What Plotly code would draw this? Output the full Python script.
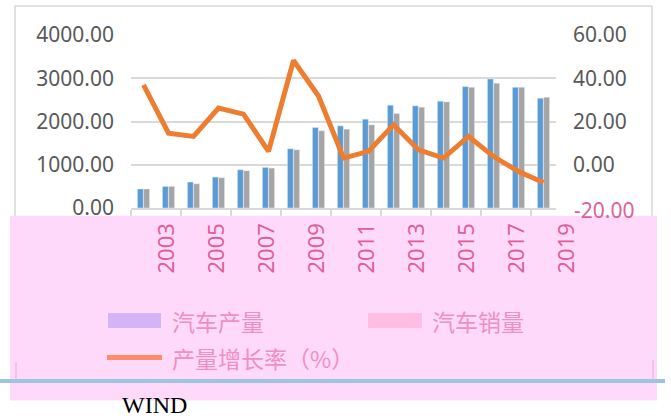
import plotly.graph_objects as go

years = list(range(2003, 2020))
production = [440, 500, 600, 715, 885, 940, 1370, 1862, 1900, 2054, 2377, 2362, 2469, 2808, 2985, 2792, 2538]
sales = [439, 500, 560, 700, 862, 923, 1346, 1785, 1823, 1923, 2185, 2331, 2454, 2792, 2885, 2792, 2562]
growth = [36.9, 14.6, 13.1, 26.2, 23.4, 6.2, 48.2, 31.8, 3.1, 6.2, 18.5, 6.9, 3.1, 13.1, 3.8, -3.1, -8.2]
year_labels = [str(y) for y in years[::2]]

W, H = 671, 419
L, R, T, B = 131, 556, 35, 208  # plot area in pixels


def fx(px):
    return (px - L) / (R - L)


def fy(py):
    return (B - py) / (B - T)


fig = go.Figure()
fig.add_trace(go.Bar(x=years, y=production, name="汽车产量", marker_color="#5b9bd5"))
fig.add_trace(go.Bar(x=years, y=sales, name="汽车销量", marker_color="#a5a5a5"))
fig.add_trace(go.Scatter(x=years, y=growth, name="产量增长率（%）", mode="lines",
                         line=dict(color="#ed7d31", width=5), yaxis="y2"))

pink = "#ffd9fa"
pink_text = "#de5f98"
legend_text = "#ee90c2"

shapes = [
    # outer chart border
    dict(type="rect", xref="paper", yref="paper", x0=fx(15), x1=fx(652), y0=fy(381), y1=fy(6),
         line=dict(color="#d9d9d9", width=1.5), layer="below"),
    # pink block over the lower part
    dict(type="rect", xref="paper", yref="paper", x0=fx(10), x1=fx(657), y0=fy(400.5), y1=fy(215.7),
         fillcolor=pink, line=dict(width=0), layer="above"),
    dict(type="line", xref="paper", yref="paper", x0=fx(16), x1=fx(16), y0=fy(381), y1=fy(362),
         line=dict(color="#f2a6d8", width=1), layer="above"),
    dict(type="line", xref="paper", yref="paper", x0=fx(653), x1=fx(653), y0=fy(381), y1=fy(360),
         line=dict(color="#f2a6d8", width=1), layer="above"),
    # blue rule
    dict(type="line", xref="paper", yref="paper", x0=fx(0), x1=fx(665), y0=fy(381), y1=fy(381),
         line=dict(color="#9dc3e6", width=4), layer="above"),
    # legend swatches
    dict(type="rect", xref="paper", yref="paper", x0=fx(108), x1=fx(161), y0=fy(328), y1=fy(313),
         fillcolor="#d4b3f7", line=dict(width=0), layer="above"),
    dict(type="rect", xref="paper", yref="paper", x0=fx(368), x1=fx(422), y0=fy(328), y1=fy(313),
         fillcolor="#ffbde4", line=dict(width=0), layer="above"),
    dict(type="line", xref="paper", yref="paper", x0=fx(107), x1=fx(162), y0=fy(357.5), y1=fy(357.5),
         line=dict(color="#ff8c69", width=5), layer="above"),
]

annotations = []
for y, lab in zip(years[::2], year_labels):
    annotations.append(dict(x=y, xref="x", y=fy(249), yref="paper", text=lab, showarrow=False,
                            textangle=-90, xanchor="center", yanchor="middle", xshift=21,
                            font=dict(family="Noto Sans", size=22, color=pink_text)))
annotations += [
    dict(x=fx(572), xref="paper", y=-20, yref="y2", text="-20.00", showarrow=False,
         xanchor="left", yanchor="middle", yshift=-2,
         font=dict(family="Noto Sans", size=21, color=pink_text)),
    dict(x=fx(170), xref="paper", y=fy(321), yref="paper", text="汽车产量", showarrow=False,
         xanchor="left", yanchor="middle",
         font=dict(family="Noto Sans CJK SC", size=23, color=legend_text)),
    dict(x=fx(430), xref="paper", y=fy(321), yref="paper", text="汽车销量", showarrow=False,
         xanchor="left", yanchor="middle",
         font=dict(family="Noto Sans CJK SC", size=23, color=legend_text)),
    dict(x=fx(170), xref="paper", y=fy(358), yref="paper", text="产量增长率（%）", showarrow=False,
         xanchor="left", yanchor="middle",
         font=dict(family="Noto Sans CJK SC", size=23, color=legend_text)),
    dict(x=fx(120), xref="paper", y=fy(405), yref="paper", text="WIND", showarrow=False,
         xanchor="left", yanchor="middle",
         font=dict(family="Liberation Serif", size=24, color="#000000")),
]

fig.update_layout(
    width=W, height=H, autosize=False,
    margin=dict(l=L, r=W - R, t=T, b=H - B, pad=0),
    paper_bgcolor="white", plot_bgcolor="white",
    showlegend=False,
    barmode="group", bargap=0.5, bargroupgap=0.05,
    xaxis=dict(range=[years[0] - 0.5, years[-1] + 0.5], showgrid=False, zeroline=False,
               showline=True, linecolor="#d9d9d9", linewidth=1.5,
               ticks="outside", ticklen=7, tickcolor="#d9d9d9", tickwidth=1.5,
               tickvals=[y - 0.5 for y in years[::2]], showticklabels=False),
    yaxis=dict(range=[0, 4000], tickvals=[0, 1000, 2000, 3000, 4000], tickformat=".2f",
               showgrid=True, gridcolor="#d9d9d9", gridwidth=1.5, zeroline=False,
               ticklabelstandoff=16,
               tickfont=dict(family="Noto Sans", size=21, color="#595959")),
    yaxis2=dict(range=[-20, 60], tickvals=[0, 20, 40, 60], tickformat=".2f", overlaying="y",
                side="right", showgrid=False, zeroline=False, ticklabelstandoff=16,
                tickfont=dict(family="Noto Sans", size=21, color="#595959")),
    shapes=shapes,
    annotations=annotations,
)

# drop the browser's default body margin so the figure sits at the page corner
fig.write_html("out.html", config={"displayModeBar": False},
               post_script="document.body.style.margin='0';")
